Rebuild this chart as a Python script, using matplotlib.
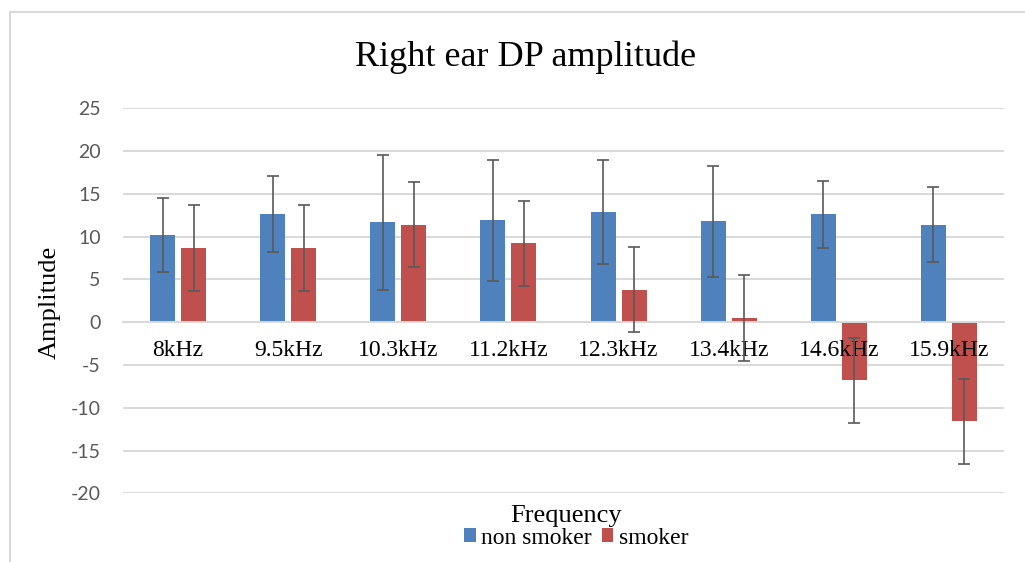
import numpy as np
import matplotlib
matplotlib.use("Agg")
import matplotlib.pyplot as plt
from matplotlib.patches import Rectangle

# data
freqs = ["8kHz", "9.5kHz", "10.3kHz", "11.2kHz", "12.3kHz", "13.4kHz", "14.6kHz", "15.9kHz"]
non_smoker = [10.2, 12.6, 11.7, 11.9, 12.9, 11.8, 12.6, 11.4]
non_smoker_err = [4.3, 4.45, 7.9, 7.05, 6.1, 6.5, 3.95, 4.4]
smoker = [8.7, 8.7, 11.4, 9.2, 3.8, 0.5, -6.8, -11.6]
smoker_err = [5.0, 5.0, 5.0, 5.0, 5.0, 5.0, 5.0, 5.0]
yticks = [-20, -15, -10, -5, 0, 5, 10, 15, 20, 25]

serif = ["Liberation Serif", "DejaVu Serif"]
blue = "#4f81bd"
red = "#c0504d"
grid_c = "#d9d9d9"
err_c = "#595959"

fig = plt.figure(figsize=(10.25, 5.62), dpi=100)
ax = fig.add_axes([123 / 1025, 1 - 493.3 / 562, (1004 - 123) / 1025, (493.3 - 108.3) / 562])

x = np.arange(len(freqs))
w = 0.227
off = 0.141

for yt in yticks:
    ax.axhline(yt, color=grid_c, lw=1.4, zorder=0)

ax.bar(x - off, non_smoker, w, color=blue, zorder=1, label="non smoker")
ax.bar(x + off, smoker, w, color=red, zorder=1, label="smoker")
ax.errorbar(x - off, non_smoker, yerr=non_smoker_err, fmt="none", ecolor=err_c,
            elinewidth=1.2, capsize=4, capthick=1.2, zorder=3)
ax.errorbar(x + off, smoker, yerr=smoker_err, fmt="none", ecolor=err_c,
            elinewidth=1.2, capsize=4, capthick=1.2, zorder=3)

for s in ["top", "right", "left"]:
    ax.spines[s].set_visible(False)
ax.spines["bottom"].set_position(("data", 0))
ax.spines["bottom"].set_color(grid_c)
ax.spines["bottom"].set_linewidth(1.4)
ax.set_axisbelow("line")

ax.set_xlim(-0.5, len(freqs) - 0.5)
ax.set_ylim(-20, 25)
ax.set_yticks(yticks)
ax.set_yticklabels([str(v) for v in yticks], fontfamily="Lato", fontsize=14, color="#595959")
ax.set_xticks(x)
ax.set_xticklabels(freqs, fontfamily=serif, fontsize=17, color="black")
ax.tick_params(axis="y", length=0, pad=16)
ax.tick_params(axis="x", length=0, pad=13)

fig.text(526 / 1025, 1 - 57 / 562, "Right ear DP amplitude", ha="center", va="center",
         fontfamily=serif, fontsize=26)
fig.text(50 / 1025, 1 - 302 / 562, "Amplitude", ha="center", va="center", rotation=90,
         fontfamily=serif, fontsize=19)
fig.text(566 / 1025, 1 - 522 / 562, "Frequency", ha="center", va="baseline",
         fontfamily=serif, fontsize=19)

fig.legend(loc="center", bbox_to_anchor=(576 / 1025, 1 - 538 / 562), ncol=2, frameon=False,
           prop={"family": serif, "size": 17}, handlelength=0.5, handleheight=0.5,
           handletextpad=0.22, columnspacing=0.42, borderpad=0)

# chart border (light gray frame)
fig.patches.append(Rectangle((10 / 1025, -0.1), 1.1, 1 - 12 / 562 + 0.1, transform=fig.transFigure,
                             fill=False, edgecolor=grid_c, lw=1.5))

fig.savefig("out.png", dpi=100)
